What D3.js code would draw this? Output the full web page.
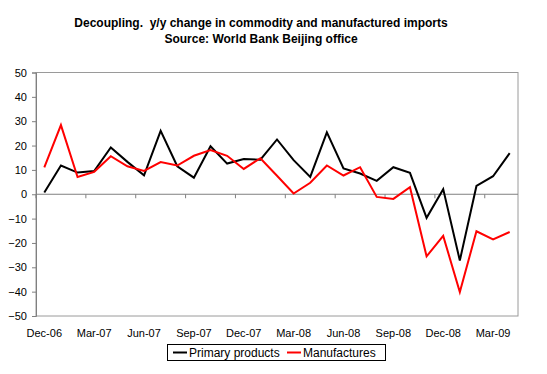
<!DOCTYPE html>
<html>
<head>
<meta charset="utf-8">
<script src="https://cdn.jsdelivr.net/npm/d3@7"></script>
<style>
    body { margin: 0; background: #fff; }
    text { font-family: "Liberation Sans", Arial, sans-serif; }
</style>
</head>
<body>
<svg id="chart" width="547" height="374"></svg>
<script>
// months Dec-06 .. Apr-09
const months = ["Dec-06", "Jan-07", "Feb-07", "Mar-07", "Apr-07", "May-07", "Jun-07", "Jul-07",
    "Aug-07", "Sep-07", "Oct-07", "Nov-07", "Dec-07", "Jan-08", "Feb-08", "Mar-08", "Apr-08",
    "May-08", "Jun-08", "Jul-08", "Aug-08", "Sep-08", "Oct-08", "Nov-08", "Dec-08", "Jan-09",
    "Feb-09", "Mar-09", "Apr-09"];
const tickLabels = ["Dec-06", "Mar-07", "Jun-07", "Sep-07", "Dec-07", "Mar-08", "Jun-08",
    "Sep-08", "Dec-08", "Mar-09"];
const yTicks = [50, 40, 30, 20, 10, 0, -10, -20, -30, -40, -50];

const primary = [0.7, 11.8, 8.9, 9.5, 19.2, 13.3, 7.8, 26, 11.5, 6.8, 19.7, 12.6, 14.5, 14.2,
    22.5, 14.0, 7.1, 25.4, 10.6, 8.5, 5.5, 11.1, 8.8, -9.7, 2.1, -27.2, 3.4, 7.4, 16.9];
const manufactures = [11, 28.4, 7.1, 9.2, 15.6, 11.5, 9.6, 13.2, 11.8, 15.8, 18.1, 15.8, 10.4,
    14.8, 7.6, 0.3, 4.7, 11.8, 7.7, 11.1, -1.1, -1.9, 2.9, -25.5, -17.1, -40.2, -15.2, -18.5, -15.5];

const series = [
    { name: "Primary products", values: primary, color: "#000000" },
    { name: "Manufactures", values: manufactures, color: "#ff0000" }
];

const svg = d3.select("#chart");
const plot = { left: 36, right: 518, top: 72.5, bottom: 316 };

const x = d3.scaleBand()
    .domain(months)
    .range([plot.left, plot.right]);
const y = d3.scaleLinear()
    .domain([-50, 50])
    .range([plot.bottom, plot.top]);

// title
const title = svg.append("text")
    .attr("text-anchor", "middle")
    .attr("font-size", "12px")
    .attr("font-weight", "bold")
    .style("white-space", "pre");
title.append("tspan").attr("x", 261).attr("y", 27)
    .text("Decoupling.  y/y change in commodity and manufactured imports");
title.append("tspan").attr("x", 261).attr("y", 43)
    .text("Source: World Bank Beijing office");

// plot area border
svg.append("rect")
    .attr("x", plot.left)
    .attr("y", plot.top)
    .attr("width", plot.right - plot.left)
    .attr("height", plot.bottom - plot.top)
    .attr("fill", "none")
    .attr("stroke", "#9a9a9a")
    .attr("stroke-width", 1);

// y axis
const yAxis = d3.axisLeft(y)
    .tickValues(yTicks)
    .tickSize(4)
    .tickPadding(5)
    .tickFormat(d3.format("d"));
const gy = svg.append("g")
    .attr("transform", `translate(${plot.left},0)`)
    .call(yAxis);
gy.select(".domain").attr("stroke", "#808080");
gy.selectAll(".tick line").attr("stroke", "#808080");
gy.selectAll(".tick text")
    .attr("font-size", "11px")
    .attr("font-family", "Liberation Sans, Arial, sans-serif")
    .attr("fill", "#000");

// x axis line at zero, ticks between every 3rd category
svg.append("line")
    .attr("x1", plot.left).attr("x2", plot.right)
    .attr("y1", y(0)).attr("y2", y(0))
    .attr("stroke", "#808080")
    .attr("stroke-width", 1);

const tickCats = months.filter((m, i) => i % 3 === 0);
svg.append("g").selectAll("line")
    .data(tickCats)
    .join("line")
    .attr("x1", d => x(d))
    .attr("x2", d => x(d))
    .attr("y1", y(0))
    .attr("y2", y(0) + 4)
    .attr("stroke", "#808080");

svg.append("g").selectAll("text")
    .data(tickLabels)
    .join("text")
    .attr("x", d => x(d) + x.bandwidth() / 2)
    .attr("y", 337)
    .attr("text-anchor", "middle")
    .attr("font-size", "11px")
    .text(d => d);

// series lines
const line = d3.line()
    .x((d, i) => x(months[i]) + x.bandwidth() / 2)
    .y(d => y(d));

svg.append("g").selectAll("path")
    .data(series)
    .join("path")
    .attr("d", d => line(d.values))
    .attr("fill", "none")
    .attr("stroke", d => d.color)
    .attr("stroke-width", 2)
    .attr("stroke-linejoin", "miter");

// legend
const legend = svg.append("g");
legend.append("rect")
    .attr("x", 167.5).attr("y", 344.5)
    .attr("width", 218).attr("height", 16)
    .attr("fill", "#fff")
    .attr("stroke", "#000")
    .attr("stroke-width", 1);

const legendX = [173, 287];
const items = legend.selectAll("g.item")
    .data(series)
    .join("g")
    .attr("class", "item")
    .attr("transform", (d, i) => `translate(${legendX[i]},352.5)`);
items.append("line")
    .attr("x1", 0).attr("x2", 14)
    .attr("stroke", d => d.color)
    .attr("stroke-width", 2);
items.append("text")
    .attr("x", 16)
    .attr("y", 4.5)
    .attr("font-size", "12px")
    .text(d => d.name);
</script>
</body>
</html>
